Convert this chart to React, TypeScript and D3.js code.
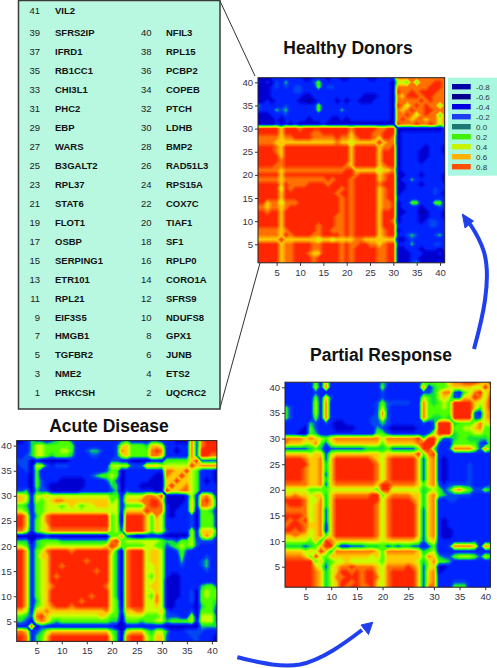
import React, { useEffect, useRef } from 'react';
import * as d3 from 'd3';

// gene names, index 0 is gene 1
const genes = ['PRKCSH', 'UQCRC2', 'NME2', 'ETS2', 'TGFBR2', 'JUNB', 'HMGB1', 'GPX1', 'EIF3S5', 'NDUFS8',
  'RPL21', 'SFRS9', 'ETR101', 'CORO1A', 'SERPING1', 'RPLP0', 'OSBP', 'SF1', 'FLOT1', 'TIAF1',
  'STAT6', 'COX7C', 'RPL37', 'RPS15A', 'B3GALT2', 'RAD51L3', 'WARS', 'BMP2', 'EBP', 'LDHB',
  'PHC2', 'PTCH', 'CHI3L1', 'COPEB', 'RB1CC1', 'PCBP2', 'IFRD1', 'RPL15', 'SFRS2IP', 'NFIL3', 'VIL2'];

const legendValues = ['-0.8', '-0.6', '-0.4', '-0.2', '0.0', '0.2', '0.4', '0.6', '0.8'];
const legendColors = ['#0000a8', '#00008c', '#0000e0', '#1c3cf0', '#1c7870', '#40f000', '#c8f400', '#ffb000', '#ff5000'];
const axisTicks = [5, 10, 15, 20, 25, 30, 35, 40];

// correlation level per gene pair, 0 (darkest blue) .. 9 (red). Only the upper
// triangle is typed, row n = gene n, columns 1..41 in groups of five.
const healthy = [
  '99999 78899 99899 99989 89999 98899 11134 11112 1',
  '.9999 78899 99899 99989 89999 98899 11122 11111 1',
  '..999 78899 98779 99989 89999 98899 11122 21112 1',
  '...99 78899 99889 99989 89999 98899 11222 12221 2',
  '....9 78899 99889 99989 88998 87899 22242 22233 2',
  '..... 97777 77767 76777 78877 77777 11232 22222 2',
  '..... .9899 99889 99989 89999 97899 22343 22234 2',
  '..... ..999 99989 98889 89999 97899 12222 22222 2',
  '..... ...99 99989 99889 89999 97999 22222 22332 2',
  '..... ....9 99999 99889 89999 97998 12222 12332 2',
  '..... ..... 99999 99889 89999 97999 12222 11222 1',
  '..... ..... .9999 99989 89999 97999 11222 01222 1',
  '..... ..... ..999 99989 89999 97889 12222 12223 2',
  '..... ..... ...99 99989 89999 97889 12255 22255 2',
  '..... ..... ....9 99989 89999 97899 22222 22222 2',
  '..... ..... ..... 99899 89999 97899 12222 22232 1',
  '..... ..... ..... .9989 89999 97899 11222 22232 2',
  '..... ..... ..... ..999 89999 98999 11222 12222 2',
  '..... ..... ..... ...99 89999 97899 12242 22222 1',
  '..... ..... ..... ....9 98999 97899 11222 12222 1',
  '..... ..... ..... ..... 97777 76778 12222 22222 2',
  '..... ..... ..... ..... .9999 97899 12222 22222 2',
  '..... ..... ..... ..... ..999 97999 12222 12222 2',
  '..... ..... ..... ..... ...99 97999 12222 11222 2',
  '..... ..... ..... ..... ....9 97999 12222 11222 1',
  '..... ..... ..... ..... ..... 97889 12222 21222 1',
  '..... ..... ..... ..... ..... .9788 12222 22222 2',
  '..... ..... ..... ..... ..... ..998 12222 22222 2',
  '..... ..... ..... ..... ..... ...99 12222 22222 2',
  '..... ..... ..... ..... ..... ....9 11111 11111 2',
  '..... ..... ..... ..... ..... ..... 98889 88986 8',
  '..... ..... ..... ..... ..... ..... .9878 87886 8',
  '..... ..... ..... ..... ..... ..... ..986 89885 8',
  '..... ..... ..... ..... ..... ..... ...98 89988 8',
  '..... ..... ..... ..... ..... ..... ....9 89885 8',
  '..... ..... ..... ..... ..... ..... ..... 98988 8',
  '..... ..... ..... ..... ..... ..... ..... .9988 8',
  '..... ..... ..... ..... ..... ..... ..... ..998 8',
  '..... ..... ..... ..... ..... ..... ..... ...99 8',
  '..... ..... ..... ..... ..... ..... ..... ....9 8',
  '..... ..... ..... ..... ..... ..... ..... ..... 9',
];

const partial = [
  '99999 98746 79899 88976 89999 97388 22255 52222 2',
  '.9999 98746 79989 89976 89999 97378 22233 32222 2',
  '..999 98746 88999 89986 89999 97378 22222 22222 2',
  '...99 98746 79989 89976 89999 97378 12222 22222 2',
  '....9 97636 78898 88876 88889 87367 11222 22222 2',
  '..... 95745 66766 66665 77777 76468 55422 22222 2',
  '..... .9657 77777 77675 77777 77587 43356 66536 5',
  '..... ..974 88888 88875 88888 87456 22222 22222 2',
  '..... ...99 52233 34445 34344 33235 22388 88728 7',
  '..... ....8 77777 77776 77777 76367 22222 22322 2',
  '..... ..... 99999 99986 89999 97378 21122 22222 2',
  '..... ..... .9999 99986 89999 97378 21122 22222 2',
  '..... ..... ..999 99986 89999 97378 21222 22222 2',
  '..... ..... ...99 99986 89999 97378 21222 22222 2',
  '..... ..... ....9 99986 89999 97378 22222 22222 2',
  '..... ..... ..... 99986 89999 97378 22222 22222 2',
  '..... ..... ..... .9986 89999 97478 22222 22222 2',
  '..... ..... ..... ..996 89999 87478 22332 22222 2',
  '..... ..... ..... ...95 78888 77478 54333 33222 2',
  '..... ..... ..... ....9 96666 66456 53478 65335 4',
  '..... ..... ..... ..... 98888 87578 32333 33222 3',
  '..... ..... ..... ..... .9999 97378 21222 23222 2',
  '..... ..... ..... ..... ..999 97378 21222 23222 2',
  '..... ..... ..... ..... ...99 97378 21222 23222 2',
  '..... ..... ..... ..... ....9 97378 21222 23222 2',
  '..... ..... ..... ..... ..... 97378 21222 22222 2',
  '..... ..... ..... ..... ..... .9589 22222 22222 2',
  '..... ..... ..... ..... ..... ..995 22388 88638 5',
  '..... ..... ..... ..... ..... ...99 32255 55532 5',
  '..... ..... ..... ..... ..... ....9 63345 54444 5',
  '..... ..... ..... ..... ..... ..... 99945 55665 5',
  '..... ..... ..... ..... ..... ..... .9955 66785 5',
  '..... ..... ..... ..... ..... ..... ..945 55686 7',
  '..... ..... ..... ..... ..... ..... ...99 99337 8',
  '..... ..... ..... ..... ..... ..... ....9 99327 8',
  '..... ..... ..... ..... ..... ..... ..... 99757 9',
  '..... ..... ..... ..... ..... ..... ..... .9767 9',
  '..... ..... ..... ..... ..... ..... ..... ..986 9',
  '..... ..... ..... ..... ..... ..... ..... ...96 8',
  '..... ..... ..... ..... ..... ..... ..... ....9 7',
  '..... ..... ..... ..... ..... ..... ..... ..... 9',
];

const acute = [
  '99824 57999 99999 99996 41899 96577 32222 23222 1',
  '.9824 57999 99999 99996 41899 96577 32222 33222 1',
  '..723 46777 77777 77775 41677 75466 42223 33322 2',
  '...91 32222 22222 22222 11222 22222 11111 11444 4',
  '....7 87545 55555 55554 41555 45566 45555 62666 3',
  '..... 97666 66666 66765 51666 65556 33322 61666 3',
  '..... .8777 77777 77786 52778 86667 32222 31555 2',
  '..... ..899 98999 99996 51899 96676 11222 21455 3',
  '..... ...99 99989 99996 51899 96686 11222 31555 4',
  '..... ....9 99999 89996 41899 96586 11122 31565 5',
  '..... ..... 99999 99996 41899 96676 11122 31565 5',
  '..... ..... .9999 99986 41899 96776 11122 22455 3',
  '..... ..... ..999 99996 41899 96676 11122 22222 2',
  '..... ..... ...99 99996 41899 96576 21122 22222 2',
  '..... ..... ....9 98996 41899 96676 22222 22232 2',
  '..... ..... ..... 99996 41899 96676 22232 22342 2',
  '..... ..... ..... .9996 41899 96776 22242 22342 2',
  '..... ..... ..... ..996 41899 96776 22252 22232 2',
  '..... ..... ..... ...97 41899 96776 22353 22222 2',
  '..... ..... ..... ....9 85555 56655 34565 63222 2',
  '..... ..... ..... ..... 95666 66665 44355 63333 2',
  '..... ..... ..... ..... .8321 12222 11111 62686 3',
  '..... ..... ..... ..... ..999 97576 32222 62777 4',
  '..... ..... ..... ..... ...99 97576 22222 31555 2',
  '..... ..... ..... ..... ....9 97576 22222 31555 2',
  '..... ..... ..... ..... ..... 97586 21222 31555 2',
  '..... ..... ..... ..... ..... .9888 21222 71554 2',
  '..... ..... ..... ..... ..... ..998 21122 72887 3',
  '..... ..... ..... ..... ..... ...97 11112 72897 3',
  '..... ..... ..... ..... ..... ....9 11112 62786 2',
  '..... ..... ..... ..... ..... ..... 97788 65222 2',
  '..... ..... ..... ..... ..... ..... .9778 65222 2',
  '..... ..... ..... ..... ..... ..... ..977 65212 1',
  '..... ..... ..... ..... ..... ..... ...97 65222 1',
  '..... ..... ..... ..... ..... ..... ....9 65222 1',
  '..... ..... ..... ..... ..... ..... ..... 97888 8',
  '..... ..... ..... ..... ..... ..... ..... .9333 3',
  '..... ..... ..... ..... ..... ..... ..... ..998 8',
  '..... ..... ..... ..... ..... ..... ..... ...99 9',
  '..... ..... ..... ..... ..... ..... ..... ....9 9',
  '..... ..... ..... ..... ..... ..... ..... ..... 9',
];

const N = genes.length;

// mirror the typed triangle into a flat grid for d3.contours
function toGrid(rows: string[]) {
  const clean = rows.map(r => r.replace(/ /g, ''));
  const grid = new Array(N * N).fill(2);
  for (let i = 0; i < N; i++) {
    for (let j = i; j < N; j++) {
      const v = +clean[i][j];
      grid[i * N + j] = v;
      grid[j * N + i] = v;
    }
  }
  return grid;
}

const levelColor = d3.scaleLinear<string>()
  .domain([0, 1, 2, 3, 3.6, 4, 5, 6, 7, 8, 9])
  .range(['#0000a0', '#0000d0', '#0020ff', '#0048f0', '#00a0a0', '#10e040', '#48ff00', '#c8ff00', '#ffc800', '#ff7000', '#ff2800'])
  .clamp(true);

const thresholds = d3.range(0, 9.01, 0.2);

function Heatmap({ id, rows, left, right, top, bottom }: any) {
  const axisX = useRef<SVGGElement>(null);
  const axisY = useRef<SVGGElement>(null);

  const x = d3.scaleLinear().domain([1, 41]).range([left, right]);
  const y = d3.scaleLinear().domain([1, 41]).range([bottom, top]);

  const contours = d3.contours().size([N, N]).thresholds(thresholds)(toGrid(rows));
  // contour coords have the grid value of gene g at g - 0.5
  const path = d3.geoPath(d3.geoTransform({
    point(px, py) { this.stream.point(x(px + 0.5), y(py + 0.5)); },
  }));

  useEffect(() => {
    const style = (g: any) => {
      g.attr('font-family', 'Liberation Sans, Arial, sans-serif').attr('font-size', 9.5);
      g.select('.domain').remove();
      g.selectAll('line').attr('stroke', '#333');
      g.selectAll('text').attr('fill', '#333348');
    };
    d3.select(axisX.current).call(d3.axisBottom(x).tickValues(axisTicks).tickSize(3).tickPadding(3) as any).call(style);
    d3.select(axisY.current).call(d3.axisLeft(y).tickValues(axisTicks).tickSize(3).tickPadding(2) as any).call(style);
  }, []);

  return (
    <g>
      <clipPath id={id}>
        <rect x={left} y={top} width={right - left} height={bottom - top} />
      </clipPath>
      <g clipPath={`url(#${id})`}>
        <g filter="url(#soft)">
          {contours.map((c, i) => (
            <path key={i} d={path(c as any) || ''} fill={levelColor(c.value)} />
          ))}
        </g>
      </g>
      <rect x={left} y={top} width={right - left} height={bottom - top} fill="none" stroke="#222" strokeWidth={1} />
      <g ref={axisX} transform={`translate(0,${bottom})`} />
      <g ref={axisY} transform={`translate(${left},0)`} />
    </g>
  );
}

const font = 'Liberation Sans, Arial, sans-serif';

export default function App() {
  const rowY = d3.scaleLinear().domain([1, 39]).range([393, 33]);
  const legendY = d3.scaleLinear().domain([0, 8]).range([86.7, 166.7]);

  return (
    <svg width={497} height={668} style={{ position: 'absolute', left: 0, top: 0, background: '#fff' }} fontFamily={font}>
      <defs>
        <filter id="soft" x="-5%" y="-5%" width="110%" height="110%">
          <feGaussianBlur stdDeviation={0.6} />
        </filter>
      </defs>

      {/* zoom lines from the gene box to the healthy map */}
      <line x1={220} y1={1} x2={255} y2={76} stroke="#333" strokeWidth={1} />
      <line x1={220} y1={408} x2={260} y2={263} stroke="#333" strokeWidth={1} />

      <rect x={18.5} y={0.5} width={201.5} height={408.5} fill="#b8f8e0" stroke="#3a3a3a" strokeWidth={1.5} />
      {genes.map((g, i) => {
        const n = i + 1;
        const odd = n % 2 === 1;
        const yy = n === 41 ? 11 : rowY(odd ? n : n - 1);
        return (
          <g key={g}>
            <text x={odd ? 40 : 151.5} y={yy} dy="0.35em" textAnchor="end" fontSize={9.5} fill="#222">{n}</text>
            <text x={odd ? 55 : 166} y={yy} dy="0.35em" fontSize={9.5} fontWeight="bold" fill="#111">{g}</text>
          </g>
        );
      })}

      <Heatmap id="healthy" rows={healthy} left={258} right={444.7} top={77.7} bottom={262.8} />
      <Heatmap id="partial" rows={partial} left={285} right={490.4} top={382.2} bottom={587.2} />
      <Heatmap id="acute" rows={acute} left={16.7} right={216.9} top={440.6} bottom={641.4} />

      <text x={348} y={53.5} textAnchor="middle" fontSize={17.5} fontWeight="bold" fill="#111">Healthy Donors</text>
      <text x={381} y={361} textAnchor="middle" fontSize={17.5} fontWeight="bold" fill="#111">Partial Response</text>
      <text x={109} y={432} textAnchor="middle" fontSize={17.5} fontWeight="bold" fill="#111">Acute Disease</text>

      <rect x={448} y={77.7} width={49} height={98} fill="#a8f8e0" />
      {legendValues.map((v, i) => (
        <g key={v}>
          <rect x={452} y={legendY(i) - 2.7} width={18.7} height={5.4} fill={legendColors[i]} />
          <text x={476} y={legendY(i)} dy="0.35em" fontSize={8} fill="#333">{v}</text>
        </g>
      ))}

      {/* blue arrows between the stages */}
      <path d="M474,349 C482,320 492,280 484,252 C481,242 476,233 470,224" fill="none" stroke="#2040f0" strokeWidth={4} />
      <path d="M462.3,214 L473.5,221 L465,228 Z" fill="#2040f0" stroke="#2040f0" strokeWidth={1} />
      <path d="M237.3,657.3 C258,662 280,668 300,664.5 C322,660 345,643 362,630" fill="none" stroke="#2040f0" strokeWidth={4} />
      <path d="M372.7,622.3 L368.5,634.5 L361,625 Z" fill="#2040f0" stroke="#2040f0" strokeWidth={1} />
    </svg>
  );
}
